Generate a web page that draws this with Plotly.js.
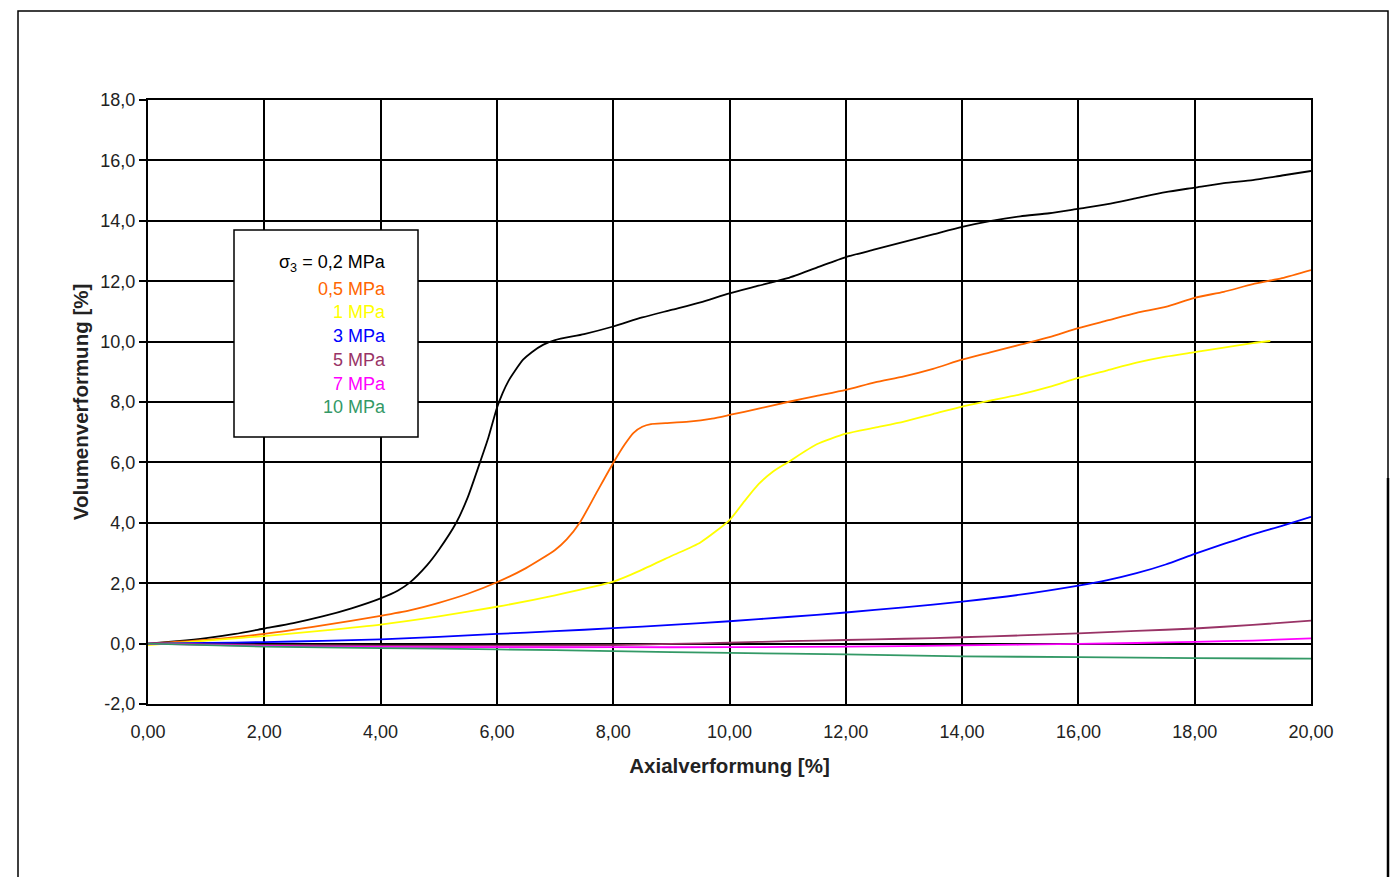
<!DOCTYPE html>
<html>
<head>
<meta charset="utf-8">
<script src="https://cdn.plot.ly/plotly-3.0.1.min.js"></script>
<style>html,body{margin:0;padding:0;background:#fff;}#chart{width:1392px;height:877px;}</style>
</head>
<body>
<div id="chart"></div>
<script>
// ---- data ----
const seriesNames = ["σ<sub>3</sub> = 0,2 MPa", "0,5 MPa", "1 MPa", "3 MPa", "5 MPa", "7 MPa", "10 MPa"];
const seriesColors = ["#000000", "#FF6600", "#FFFF00", "#0000FF", "#993366", "#FF00FF", "#339966"];

const x02 = [0,0.5,1,1.5,2,2.5,3,3.5,4,4.3,4.5,4.8,5.0,5.3,5.5,5.7,5.85,6.0,6.1,6.2,6.3,6.45,6.6,6.8,7.0,7.5,8,8.5,9,9.5,10,10.5,11,11.5,12,12.5,13,13.5,14,14.5,15,15.5,16,16.5,17,17.5,18,18.5,19,19.5,20];
const y02 = [0,0.08,0.18,0.32,0.5,0.68,0.9,1.17,1.5,1.76,2.02,2.6,3.1,4.0,4.85,5.95,6.8,7.8,8.3,8.7,9.0,9.4,9.65,9.9,10.05,10.25,10.5,10.8,11.05,11.3,11.6,11.85,12.1,12.45,12.8,13.05,13.3,13.55,13.8,14.0,14.15,14.25,14.4,14.55,14.75,14.95,15.1,15.25,15.35,15.5,15.65];

const x05 = [0,1,2,3,4,4.5,5,5.5,6,6.5,7,7.2,7.43,7.7,8.0,8.2,8.35,8.5,8.65,8.9,9.3,9.7,10,10.5,11,11.5,12,12.5,13,13.5,14,14.5,15,15.5,16,16.5,17,17.5,18,18.5,19,19.5,20];
const y05 = [0,0.12,0.32,0.6,0.92,1.1,1.35,1.65,2.03,2.5,3.1,3.45,4.02,4.95,5.98,6.6,6.98,7.18,7.27,7.3,7.35,7.45,7.57,7.78,8.0,8.2,8.4,8.65,8.85,9.1,9.4,9.65,9.9,10.15,10.45,10.7,10.95,11.15,11.45,11.65,11.9,12.1,12.37];

const x1 = [0,1,2,3,4,5,6,7,8,8.5,9,9.5,10,10.25,10.5,10.75,11,11.5,12,12.5,13,13.5,14,14.5,15,15.5,16,16.5,17,17.5,18,18.5,19,19.3];
const y1 = [-0.05,0.1,0.25,0.43,0.63,0.9,1.22,1.6,2.05,2.45,2.9,3.35,4.09,4.7,5.28,5.7,6.0,6.6,6.95,7.15,7.35,7.6,7.85,8.05,8.25,8.5,8.8,9.05,9.3,9.5,9.65,9.8,9.95,10.02];

const x3 = [0,1,2,3,4,5,6,7,8,9,10,11,12,13,14,15,16,16.5,17,17.5,18,18.5,19,19.5,20];
const y3 = [0,0.02,0.05,0.09,0.14,0.22,0.32,0.41,0.51,0.62,0.74,0.88,1.03,1.2,1.39,1.62,1.92,2.1,2.33,2.62,2.97,3.3,3.62,3.9,4.2];

const x5 = [0,2,4,6,8,9,10,11,12,13,14,15,16,17,18,19,20];
const y5 = [0,-0.05,-0.07,-0.07,-0.05,-0.01,0.03,0.08,0.12,0.16,0.21,0.27,0.34,0.42,0.5,0.62,0.76];

const x7 = [0,2,4,6,8,10,12,14,16,17,18,19,20];
const y7 = [0,-0.08,-0.11,-0.12,-0.12,-0.12,-0.1,-0.06,-0.01,0.02,0.06,0.1,0.17];

const x10 = [0,2,4,6,8,10,12,14,16,18,20];
const y10 = [0,-0.1,-0.15,-0.19,-0.25,-0.31,-0.36,-0.42,-0.45,-0.48,-0.5];

const xTickVals = [0,2,4,6,8,10,12,14,16,18,20];
const xTickText = ["0,00","2,00","4,00","6,00","8,00","10,00","12,00","14,00","16,00","18,00","20,00"];
const yTickVals = [-2,0,2,4,6,8,10,12,14,16,18];
const yTickText = ["-2,0","0,0","2,0","4,0","6,0","8,0","10,0","12,0","14,0","16,0","18,0"];

const xTitle = "Axialverformung [%]";
const yTitle = "Volumenverformung [%]";

// ---- build ----
const xs = [x02, x05, x1, x3, x5, x7, x10];
const ys = [y02, y05, y1, y3, y5, y7, y10];
const traces = xs.map((x, i) => ({
  x: x, y: ys[i], type: 'scatter', mode: 'lines',
  line: {color: seriesColors[i], width: 1.8, shape: 'spline', smoothing: 0.6},
  showlegend: false, hoverinfo: 'skip'
}));

// pixel -> paper helpers (plot area 148..1311 x, 100..704 y)
const L = 148, R = 1311, T = 100, B = 704;
const px = v => (v - L) / (R - L);
const py = v => (B - v) / (B - T);

const FONT = '"Liberation Sans", Arial, sans-serif';

const legendY = [263, 289, 312, 336, 360, 384, 407];
const annotations = seriesNames.map((t, i) => ({
  xref: 'paper', yref: 'paper', x: px(388), y: py(legendY[i]),
  xanchor: 'right', yanchor: 'middle', text: t, showarrow: false,
  font: {family: FONT, size: 18, color: i === 0 ? '#000000' : seriesColors[i]}
}));

const shapes = [
  // outer frame
  {type: 'rect', xref: 'paper', yref: 'paper', x0: px(18), x1: px(1388), y0: py(900), y1: py(11),
   line: {color: '#000', width: 1.5}, fillcolor: 'rgba(0,0,0,0)', layer: 'below'},
  {type: 'line', xref: 'paper', yref: 'paper', x0: px(1388), x1: px(1388), y0: py(478), y1: py(900),
   line: {color: '#000', width: 2.5}},
  // legend box
  {type: 'rect', xref: 'paper', yref: 'paper', x0: px(234), x1: px(418), y0: py(437), y1: py(230),
   line: {color: '#000', width: 1.5}, fillcolor: '#fff', layer: 'above'}
];

const layout = {
  width: 1392, height: 877,
  margin: {l: L, r: 1392 - R, t: T, b: 877 - B, pad: 0},
  paper_bgcolor: '#fff', plot_bgcolor: '#fff',
  font: {family: FONT, color: '#222', size: 18},
  xaxis: {
    range: [0, 20], tickmode: 'array', tickvals: xTickVals, ticktext: xTickText,
    showgrid: true, gridcolor: '#000', gridwidth: 2,
    showline: true, linecolor: '#000', linewidth: 2, mirror: true,
    zeroline: false, ticks: '', ticklabelstandoff: 10,
    tickfont: {family: FONT, size: 18, color: '#222'},
    title: {text: xTitle, font: {family: FONT, size: 20.5, color: '#222', weight: 'bold'}, standoff: 18}
  },
  yaxis: {
    range: [-2, 18], tickmode: 'array', tickvals: yTickVals, ticktext: yTickText,
    showgrid: true, gridcolor: '#000', gridwidth: 2,
    showline: true, linecolor: '#000', linewidth: 2, mirror: true,
    zeroline: true, zerolinecolor: '#000', zerolinewidth: 2,
    ticks: 'outside', ticklen: 7, tickwidth: 2, tickcolor: '#000',
    tickfont: {family: FONT, size: 18, color: '#222'},
    title: {text: yTitle, font: {family: FONT, size: 20.5, color: '#222', weight: 'bold'}, standoff: 6}
  },
  annotations: annotations,
  shapes: shapes
};

Plotly.newPlot('chart', traces, layout, {staticPlot: true, displayModeBar: false});
</script>
</body>
</html>
